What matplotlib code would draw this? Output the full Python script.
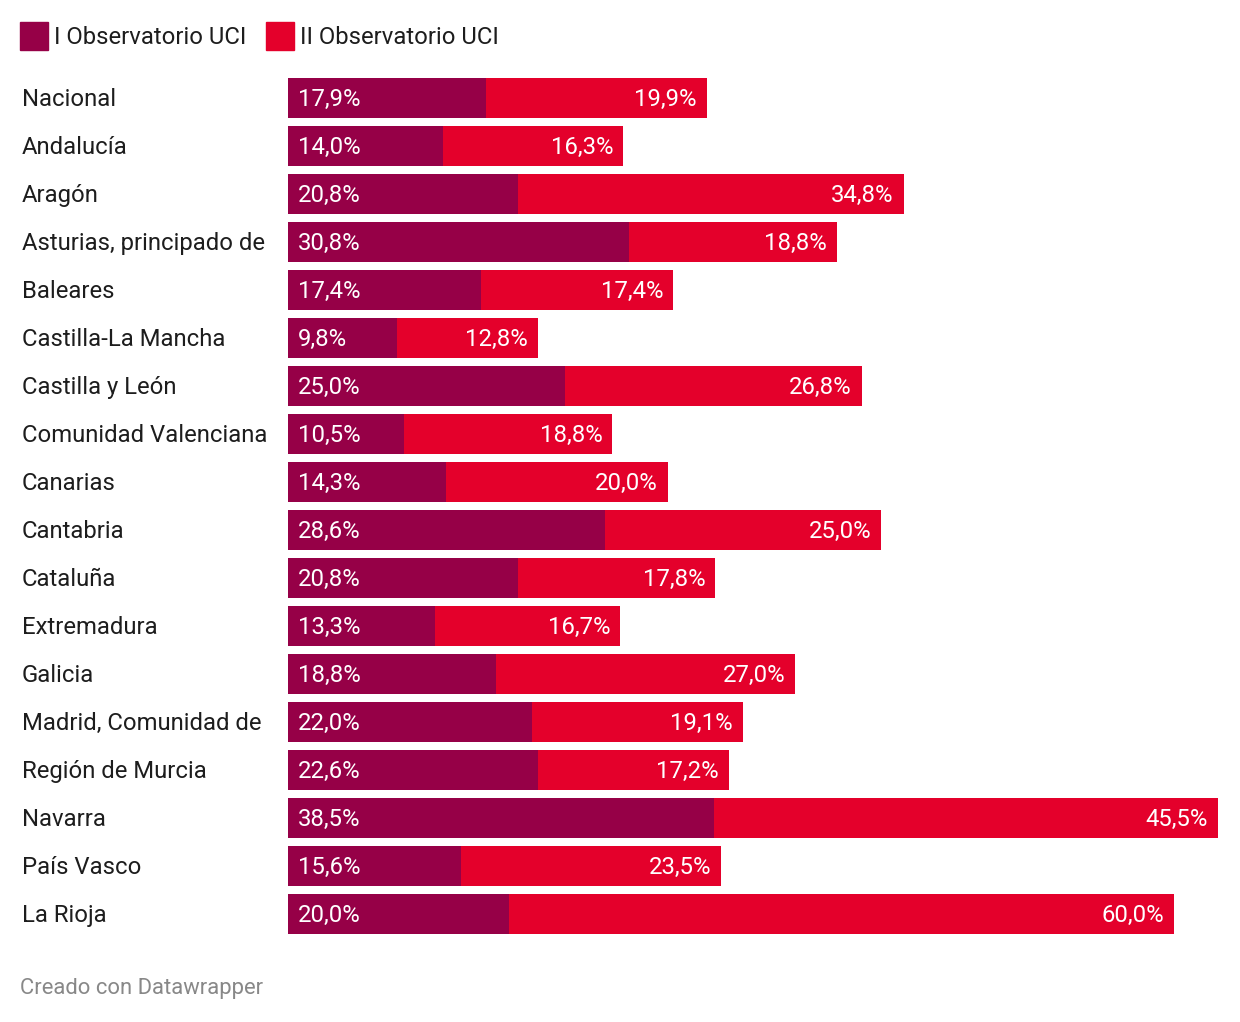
import matplotlib

matplotlib.use("Agg")
import matplotlib.pyplot as plt  # noqa: E402
from matplotlib.patches import Rectangle  # noqa: E402

plt.rcParams["font.family"] = ["Roboto", "DejaVu Sans"]

REGIONS = [
    "Nacional", "Andalucía", "Aragón", "Asturias, principado de", "Baleares",
    "Castilla-La Mancha", "Castilla y León", "Comunidad Valenciana", "Canarias",
    "Cantabria", "Cataluña", "Extremadura", "Galicia", "Madrid, Comunidad de",
    "Región de Murcia", "Navarra", "País Vasco", "La Rioja",
]
OBS_I = [17.9, 14.0, 20.8, 30.8, 17.4, 9.8, 25.0, 10.5, 14.3,
         28.6, 20.8, 13.3, 18.8, 22.0, 22.6, 38.5, 15.6, 20.0]
OBS_II = [19.9, 16.3, 34.8, 18.8, 17.4, 12.8, 26.8, 18.8, 20.0,
          25.0, 17.8, 16.7, 27.0, 19.1, 17.2, 45.5, 23.5, 60.0]
SERIES = ["I Observatorio UCI", "II Observatorio UCI"]

C_I = "#960047"
C_II = "#e4002b"
W, H = 1240, 1022
FS = 17.2
DY = 1.5  # text sits a touch below bar centre


def fmt(v):
    return f"{v:.1f}%".replace(".", ",")


fig = plt.figure(figsize=(W / 100, H / 100), dpi=100)
ax = fig.add_axes([288 / W, 1 - 938 / H, 930 / W, 864 / H])
n = len(REGIONS)
y = list(range(n))
ax.barh(y, OBS_I, height=40 / 48, color=C_I, linewidth=0)
ax.barh(y, OBS_II, left=OBS_I, height=40 / 48, color=C_II, linewidth=0)
ax.set_xlim(0, max(a + b for a, b in zip(OBS_I, OBS_II)))
ax.set_ylim(n - 0.5, -0.5)
ax.axis("off")

px = 84 / 930  # data units per pixel
for i, (a, b) in enumerate(zip(OBS_I, OBS_II)):
    yy = i + DY / 48
    ax.text(10 * px, yy, fmt(a), color="white", fontsize=FS,
            ha="left", va="center")
    ax.text(a + b - 10 * px, yy, fmt(b), color="white", fontsize=FS,
            ha="right", va="center")
    fig.text(22 / W, 1 - (98 + DY + 48 * i) / H, REGIONS[i], color="#1d1d1d",
             fontsize=FS, ha="left", va="center")

# legend
for x0, col, lab in [(20, C_I, SERIES[0]), (266, C_II, SERIES[1])]:
    fig.patches.append(Rectangle((x0 / W, 1 - 50 / H), 28 / W, 28 / H,
                                 transform=fig.transFigure, color=col))
    fig.text((x0 + 34) / W, 1 - (36 + DY) / H, lab, color="#1d1d1d",
             fontsize=FS, ha="left", va="center")

fig.text(20 / W, 1 - (987 + DY) / H, "Creado con Datawrapper", color="#888888",
         fontsize=15.8, ha="left", va="center")

fig.savefig("out.png", dpi=100, facecolor="white")
